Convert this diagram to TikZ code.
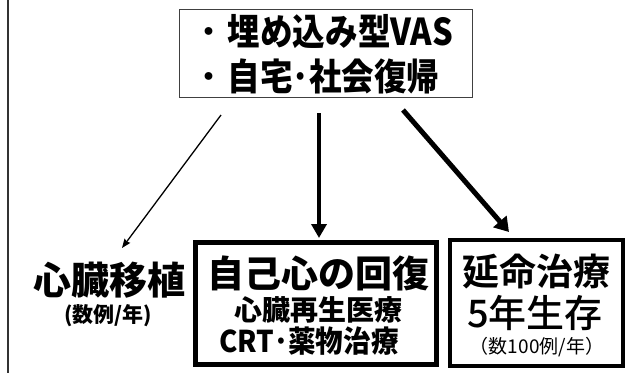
\documentclass[tikz,border=0pt]{standalone}
\usepackage{fontspec}
\newfontfamily\jp{Noto Sans CJK JP}
\newfontfamily\jpmed{Noto Sans CJK JP Medium}
\newfontfamily\jpbold{Noto Sans CJK JP Bold}
\newfontfamily\jpblack{Noto Sans CJK JP Black}
\newfontfamily\jpcond{Noto Sans CJK JP Black}[FakeStretch=0.88]
\newfontfamily\jpcondb{Noto Sans CJK JP Black}[FakeStretch=0.92]
\usetikzlibrary{arrows.meta}
\tikzset{
  txt/.style={inner sep=0pt, outer sep=0pt, anchor=center},
  bigbox/.style={draw=black, line width=5pt, minimum width=241pt, minimum height=122pt, inner sep=0pt},
  topbox/.style={draw=black!75, line width=1pt, minimum width=293pt, minimum height=88pt, inner sep=0pt},
}
\begin{document}
\begin{tikzpicture}[x=1pt,y=-1pt]
\useasboundingbox (0,0) rectangle (629,373);
% left rule
\coordinate (lt) at (8,0);
\coordinate (lb) at (8,373);
\draw[black!80, line width=1.5pt] (lt) -- (lb);
% top box
\node[topbox] (top) at (325.5,53) {};
\node[txt, align=left, font=\jpcond\fontsize{37}{45}\selectfont] (toptxt) at (322,54) {{\jp ・}埋め込み型VAS\\{\jp ・}自宅･社会復帰};
% middle box
\node[bigbox] (mid) at (316,303.5) {};
\node[txt, font=\jpblack\fontsize{37}{40}\selectfont] (m1) at (318,273) {自己心の回復};
\node[txt, font=\jpblack\fontsize{28}{32}\selectfont] (m2) at (318,310) {心臓再生医療};
\node[txt, font=\jpcondb\fontsize{30}{32}\selectfont] (m3) at (309,341) {CRT･薬物治療};
% right box
\node[draw=black, line width=4.5pt, minimum width=173pt, minimum height=126pt, inner sep=0pt] (right) at (536.5,303) {};
\node[txt, font=\jpbold\fontsize{37}{40}\selectfont] (r1) at (536,272) {延命治療};
\node[txt, font=\jpmed\fontsize{38}{40}\selectfont] (r2) at (535,313) {5年生存};
\node[txt, font=\jp\fontsize{19}{22}\selectfont] (r3) at (537,347) {（数100例/年）};
% left text
\node[txt, font=\jpblack\fontsize{38}{40}\selectfont] (l1) at (109,280) {心臓移植};
\node[txt, font=\jpblack\fontsize{21}{22}\selectfont] (l2) at (108,316) {(数例/年)};
% arrows
\coordinate (a1s) at (221,115);
\coordinate (a1e) at (122,248);
\coordinate (a2s) at (319,113);
\coordinate (a2e) at (319,238);
\coordinate (a3s) at (403,110);
\coordinate (a3e) at (509,232);
\draw[line width=1.3pt, -{Stealth[length=9pt,width=7pt,inset=1pt]}] (a1s) -- (a1e);
\draw[line width=4pt, -{Triangle[length=14pt,width=15pt]}] (a2s) -- (a2e);
\draw[line width=5pt, -{Triangle[length=14pt,width=17pt]}] (a3s) -- (a3e);
\end{tikzpicture}
\end{document}
